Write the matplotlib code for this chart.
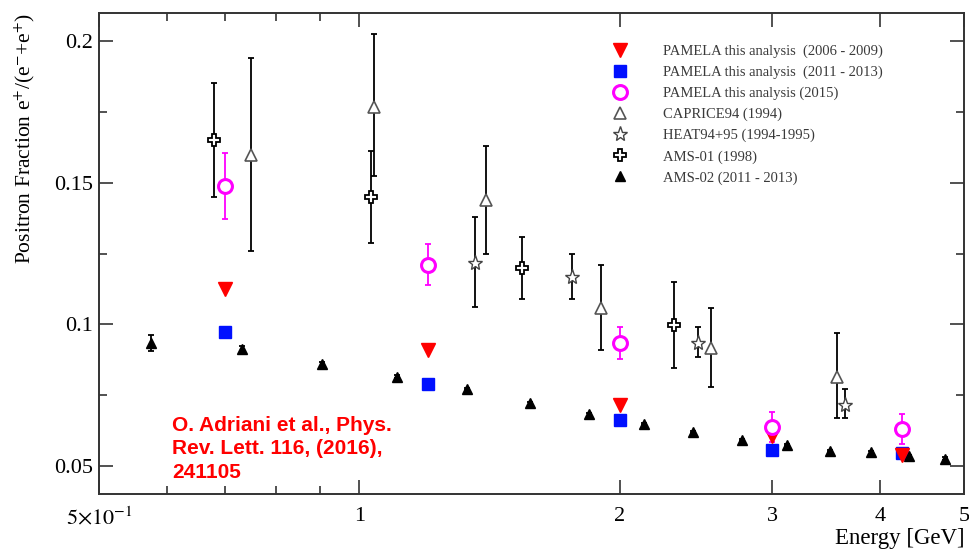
import numpy as np
import matplotlib
matplotlib.use("Agg")
import matplotlib.pyplot as plt

plt.rcParams["font.family"] = ["Liberation Serif", "DejaVu Serif"]
plt.rcParams["mathtext.fontset"] = "stix"

# PAMELA (this analysis)
pam_e = [0.70, 1.20, 2.00, 3.00, 4.24]
pam_0609 = [0.1125, 0.0910, 0.0715, 0.0606, 0.0540]
pam_1113 = [0.0973, 0.0789, 0.0662, 0.0556, 0.0546]
pam_2015 = [0.1488, 0.1210, 0.0934, 0.0638, 0.0631]
pam_2015_err = [0.0115, 0.0072, 0.0055, 0.0053, 0.0053]

# CAPRICE94
cap_e = [0.750, 1.04, 1.40, 1.90, 2.55, 3.56]
cap_val = [0.1598, 0.1767, 0.1439, 0.1058, 0.0917, 0.0814]
cap_lo = [0.1259, 0.1524, 0.1248, 0.0909, 0.0779, 0.0669]
cap_hi = [0.1940, 0.2025, 0.1629, 0.1210, 0.1058, 0.0970]

# HEAT94+95
heat_e = [1.36, 1.76, 2.46, 3.64]
heat_val = [0.1217, 0.1167, 0.0934, 0.0715]
heat_lo = [0.1061, 0.1089, 0.0885, 0.0669]
heat_hi = [0.1379, 0.1248, 0.0991, 0.0772]

# AMS-01
ams01_e = [0.680, 1.03, 1.54, 2.31]
ams01_val = [0.1651, 0.1449, 0.1199, 0.0998]
ams01_lo = [0.1449, 0.1287, 0.1089, 0.0846]
ams01_hi = [0.1852, 0.1612, 0.1308, 0.1150]

# AMS-02
ams02_e = [0.575, 0.731, 0.906, 1.106, 1.33, 1.575, 1.84, 2.13, 2.43,
           2.77, 3.12, 3.50, 3.90, 4.32, 4.75]
ams02_val = [0.0934, 0.0913, 0.0860, 0.0815, 0.0772, 0.0722, 0.0683, 0.0648,
             0.0620, 0.0592, 0.0574, 0.0553, 0.0549, 0.0535, 0.0525]
ams02_err = [0.0029, 0.0012, 0.0008, 0.0006, 0.0005, 0.0005, 0.0005, 0.0005,
             0.0005, 0.0005, 0.0005, 0.0005, 0.0005, 0.0005, 0.0005]

x_ticks = [0.5, 1, 2, 3, 4, 5]
x_labels = [r"$5{\times}10^{-1}$", "1", "2", "3", "4", "5"]
y_ticks = [0.05, 0.1, 0.15, 0.2]
y_labels = ["0.05", "0.1", "0.15", "0.2"]


def asym(val, lo, hi):
    val, lo, hi = np.array(val), np.array(lo), np.array(hi)
    return [val - lo, hi - val]


fig = plt.figure(figsize=(9.7, 5.52), dpi=100)
ax = fig.add_axes([0.102, 0.105, 0.892, 0.8715])

bar_kw = dict(fmt="none", ecolor="black", elinewidth=1.3, capsize=2.2,
              capthick=1.3, zorder=2)
ax.errorbar(cap_e, cap_val, yerr=asym(cap_val, cap_lo, cap_hi), **bar_kw)
ax.errorbar(heat_e, heat_val, yerr=asym(heat_val, heat_lo, heat_hi), **bar_kw)
ax.errorbar(ams01_e, ams01_val, yerr=asym(ams01_val, ams01_lo, ams01_hi), **bar_kw)
ax.errorbar(ams02_e, ams02_val, yerr=ams02_err, **bar_kw)
ax.errorbar(pam_e, pam_2015, yerr=pam_2015_err, fmt="none", ecolor="#ff00ff",
            elinewidth=1.3, capsize=2.2, capthick=1.3, zorder=2)

ax.plot(pam_e, pam_0609, ls="none", marker="v", ms=10, color="#ff0000",
        mec="#ff0000", zorder=4, label="PAMELA this analysis  (2006 - 2009)")
ax.plot(pam_e, pam_1113, ls="none", marker="s", ms=8.5, color="#0010ff",
        mec="#0010ff", zorder=3, label="PAMELA this analysis  (2011 - 2013)")
ax.plot(pam_e, pam_2015, ls="none", marker="o", ms=10, mfc="white",
        mec="#ff00ff", mew=2.2, zorder=5, label="PAMELA this analysis (2015)")
ax.plot(cap_e, cap_val, ls="none", marker="^", ms=9, mfc="white",
        mec="#555555", mew=1.2, zorder=3, label="CAPRICE94 (1994)")
ax.plot(heat_e, heat_val, ls="none", marker="*", ms=11, mfc="white",
        mec="#444444", mew=1.0, zorder=3, label="HEAT94+95 (1994-1995)")
ax.plot(ams01_e, ams01_val, ls="none", marker="P", ms=9, mfc="white",
        mec="black", mew=1.3, zorder=3, label="AMS-01 (1998)")
ax.plot(ams02_e, ams02_val, ls="none", marker="^", ms=7, color="black",
        zorder=3, label="AMS-02 (2011 - 2013)")

ax.set_xscale("log")
ax.set_xlim(0.5, 5)
ax.set_ylim(0.0401, 0.2099)
ax.set_xticks(x_ticks)
ax.set_xticklabels(x_labels)
ax.set_xticks([0.6, 0.7, 0.8, 0.9], minor=True)
ax.set_xticklabels([], minor=True)
ax.set_yticks(y_ticks)
ax.set_yticklabels(y_labels)
ax.set_yticks([0.075, 0.125, 0.175], minor=True)

ax.tick_params(which="both", direction="in", top=True, right=True,
               color="#333333", width=1.2, labelsize=16)
ax.tick_params(which="major", length=10)
ax.tick_params(which="minor", length=5.5)
ax.tick_params(axis="x", which="major", pad=9)
ax.tick_params(axis="y", which="major", pad=4)
for s in ax.spines.values():
    s.set_color("#333333")
    s.set_linewidth(1.4)

ax.set_ylabel(r"Positron Fraction e$^{+}$/(e$^{-}$+e$^{+}$)", fontsize=15.5,
              loc="top")
ax.yaxis.set_label_coords(-0.072, 1.0)
ax.set_xlabel("Energy [GeV]", fontsize=16.5, loc="right")
ax.xaxis.set_label_coords(1.0, -0.07)

leg = ax.legend(loc="upper left", bbox_to_anchor=(0.585, 0.934), frameon=False,
                fontsize=10.5, handlelength=2.0, handletextpad=1.95,
                labelspacing=0.52, borderpad=0, borderaxespad=0)
for t in leg.get_texts():
    t.set_color("#3a3a3a")

ax.text(0.085, 0.163, "O. Adriani et al., Phys.\nRev. Lett. 116, (2016),\n241105",
        transform=ax.transAxes, color="#ff0000", fontsize=15,
        fontweight="bold", family="Liberation Sans", va="top", ha="left",
        linespacing=1.3)

fig.savefig("out.png", dpi=100)
